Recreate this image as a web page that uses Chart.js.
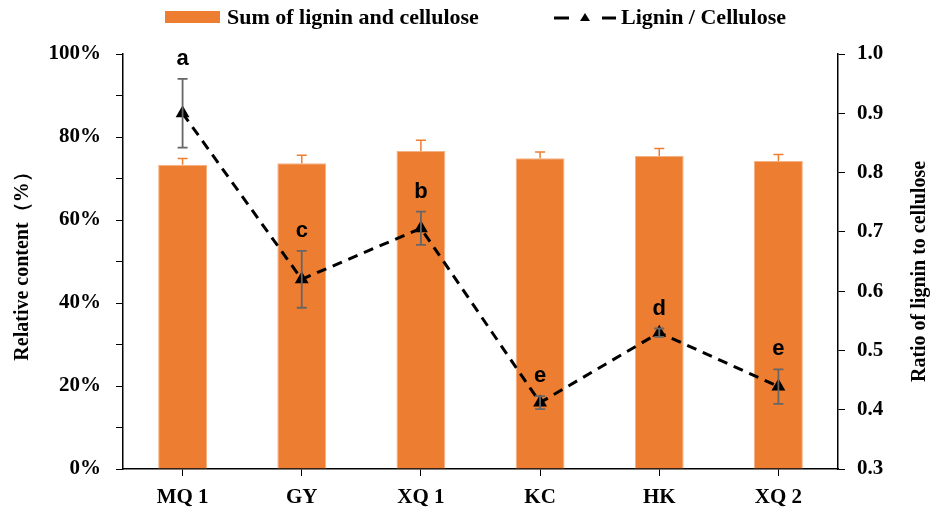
<!DOCTYPE html>
<html>
<head>
<meta charset="utf-8">
<script src="https://cdn.jsdelivr.net/npm/chart.js@4.4.0/dist/chart.umd.min.js"></script>
<style>
  html, body { margin: 0; padding: 0; background: #fff; }
  #wrap { width: 934px; height: 513px; }
</style>
</head>
<body>
<div id="wrap"><canvas id="chart"></canvas></div>
<script>
// data
const sites       = ['MQ 1', 'GY', 'XQ 1', 'KC', 'HK', 'XQ 2'];
const sumValues   = [73.3, 73.7, 76.6, 74.9, 75.4, 74.2];
const sumErr      = [1.5, 1.9, 2.6, 1.5, 1.8, 1.6];
const ratioValues = [0.900, 0.620, 0.706, 0.412, 0.530, 0.439];
const ratioErr    = [0.058, 0.048, 0.028, 0.011, 0.007, 0.029];
const sigLetters  = ['a', 'c', 'b', 'e', 'd', 'e'];
const seriesNames = ['Sum of lignin and cellulose', 'Lignin / Cellulose'];
const leftTitle   = 'Relative content（%）';
const rightTitle  = 'Ratio of lignin to cellulose';

const ORANGE = '#ED7D31';
const SERIF = '"Liberation Serif", "Times New Roman", serif';
const SANS = '"Liberation Sans", Arial, sans-serif';

const extras = {
  id: 'extras',
  afterDatasetDraw(chart, args) {
    if (args.index !== 0) return;
    const ctx = chart.ctx, x = chart.scales.x, y = chart.scales.y, y1 = chart.scales.y1;
    ctx.save();
    // bar error bars (upper only)
    ctx.strokeStyle = ORANGE; ctx.lineWidth = 1.5;
    sumValues.forEach((v, i) => {
      const cx = x.getPixelForValue(i);
      const base = y.getPixelForValue(v), top = y.getPixelForValue(v + sumErr[i]);
      ctx.beginPath();
      ctx.moveTo(cx, base); ctx.lineTo(cx, top);
      ctx.moveTo(cx - 5, top); ctx.lineTo(cx + 5, top);
      ctx.stroke();
    });
    // ratio error bars
    ctx.strokeStyle = '#666666'; ctx.lineWidth = 1.8;
    ratioValues.forEach((v, i) => {
      const cx = x.getPixelForValue(i);
      const top = y1.getPixelForValue(v + ratioErr[i]), bot = y1.getPixelForValue(v - ratioErr[i]);
      ctx.beginPath();
      ctx.moveTo(cx, top); ctx.lineTo(cx, bot);
      ctx.moveTo(cx - 5, top); ctx.lineTo(cx + 5, top);
      ctx.moveTo(cx - 5, bot); ctx.lineTo(cx + 5, bot);
      ctx.stroke();
    });
    ctx.restore();
  },
  afterDraw(chart) {
    const ctx = chart.ctx, x = chart.scales.x, y1 = chart.scales.y1, area = chart.chartArea;
    ctx.save();
    // significance letters
    ctx.fillStyle = '#000';
    ctx.font = 'bold 22px ' + SANS;
    ctx.textAlign = 'center'; ctx.textBaseline = 'bottom';
    sigLetters.forEach((t, i) => {
      const cx = x.getPixelForValue(i);
      const top = y1.getPixelForValue(ratioValues[i] + ratioErr[i]);
      ctx.fillText(t, cx, top - 9);
    });

    // axis titles
    ctx.font = 'bold 20px ' + SERIF;
    ctx.textBaseline = 'middle';
    ctx.save();
    ctx.translate(23, (area.top + area.bottom) / 2);
    ctx.rotate(-Math.PI / 2);
    ctx.fillText(leftTitle, 0, 0);
    ctx.restore();
    ctx.save();
    ctx.translate(920, (area.top + area.bottom) / 2 + 10);
    ctx.rotate(-Math.PI / 2);
    ctx.fillText(rightTitle, 0, 0);
    ctx.restore();

    // legend
    ctx.font = 'bold 22px ' + SERIF;
    ctx.textAlign = 'left';
    ctx.fillStyle = ORANGE;
    ctx.fillRect(165, 11, 55, 12);
    ctx.fillStyle = '#000';
    ctx.fillText(seriesNames[0], 227, 18);
    ctx.strokeStyle = '#000'; ctx.lineWidth = 3;
    ctx.beginPath();
    ctx.moveTo(554, 18); ctx.lineTo(569, 18);
    ctx.moveTo(602, 18); ctx.lineTo(616, 18);
    ctx.stroke();
    ctx.beginPath();
    ctx.moveTo(585, 13); ctx.lineTo(590, 21); ctx.lineTo(580, 21); ctx.closePath();
    ctx.fill();
    ctx.fillText(seriesNames[1], 621, 18);
    ctx.restore();
  }
};

new Chart(document.getElementById('chart').getContext('2d'), {
  data: {
    labels: sites,
    datasets: [
      {
        type: 'line', label: seriesNames[1], data: ratioValues, yAxisID: 'y1', order: 0,
        borderColor: '#000', borderWidth: 3, borderDash: [10, 7], tension: 0,
        pointStyle: 'triangle', pointRadius: 5, pointBackgroundColor: '#000', pointBorderColor: '#000'
      },
      {
        type: 'bar', label: seriesNames[0], data: sumValues, yAxisID: 'y', order: 1,
        backgroundColor: ORANGE, borderColor: '#F4B183', borderWidth: 1,
        categoryPercentage: 1, barPercentage: 0.41
      }
    ]
  },
  options: {
    responsive: true, maintainAspectRatio: false, animation: false,
    layout: { padding: { top: 54, left: 0, right: 0, bottom: 0 } },
    plugins: { legend: { display: false }, tooltip: { enabled: false } },
    scales: {
      x: {
        offset: true,
        grid: { display: true, offset: false, drawOnChartArea: false, drawTicks: true, tickLength: 7, color: '#000', lineWidth: 1 },
        border: { color: '#000', width: 1.5 },
        ticks: { color: '#000', font: { family: SERIF, size: 21, weight: 'bold' }, padding: 9, maxRotation: 0 },
        afterFit: s => { s.height = 44; }
      },
      y: {
        position: 'left', min: 0, max: 100,
        grid: { drawOnChartArea: false, tickLength: 7, color: '#000', lineWidth: 1 },
        border: { color: '#000', width: 1.5 },
        ticks: { stepSize: 10, autoSkip: false, color: '#000', padding: 15,
                 font: { family: SERIF, size: 21, weight: 'bold' },
                 callback: v => (v % 20 === 0 ? v + '%' : '') },
        afterFit: s => { s.width = 123; }
      },
      y1: {
        position: 'right', min: 0.3, max: 1.0,
        grid: { drawOnChartArea: false, tickLength: 7, color: '#000', lineWidth: 1 },
        border: { color: '#000', width: 1.5 },
        ticks: { stepSize: 0.1, autoSkip: false, color: '#000', padding: 12,
                 font: { family: SERIF, size: 21, weight: 'bold' },
                 callback: v => Number(v).toFixed(1) },
        afterFit: s => { s.width = 96; }
      }
    }
  },
  plugins: [extras]
});
</script>
</body>
</html>
